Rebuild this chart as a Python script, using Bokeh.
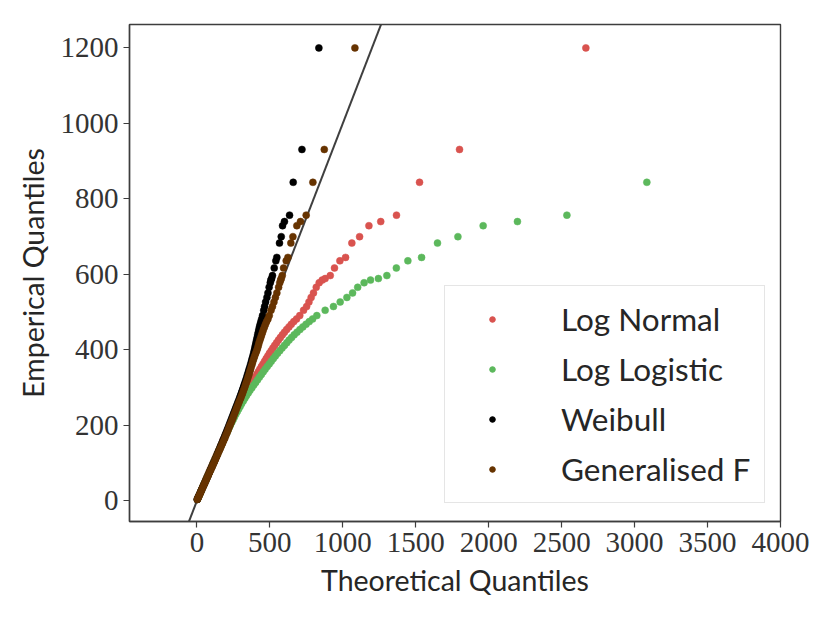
from bokeh.plotting import figure
from bokeh.models import Range1d, FixedTicker, Legend, LegendItem
from bokeh.embed import file_html
from bokeh.resources import INLINE

# ---------------- data ----------------
empirical_q = [4, 8, 13, 18, 24, 30, 36, 42, 48, 55, 62, 69, 76, 83, 90, 97, 104, 111, 118, 125,
               132, 139, 146, 153, 160, 167, 174, 181, 188, 195, 202, 209, 216, 223, 230, 237, 244,
               251, 258, 265, 272, 279, 286, 293, 300, 307, 314, 321, 328, 335, 342, 349, 356, 363,
               370, 377, 384, 391, 398, 405, 412, 419, 426, 433, 440, 447, 454, 461, 468, 475, 482,
               491, 505, 515, 527, 539, 551, 566, 578, 585, 589, 597, 617, 636, 645, 683, 700, 729,
               740, 757, 844, 931, 1200]

theo_weibull = [2, 7, 13, 19, 26, 33, 40, 47, 54, 62, 70, 78, 86, 94, 102, 110, 118, 126, 134, 141,
                149, 157, 164, 172, 179, 187, 194, 202, 209, 217, 224, 231, 238, 245, 252, 259, 266,
                273, 280, 287, 294, 300, 306, 312, 318, 324, 330, 336, 342, 347, 353, 358, 364, 369,
                374, 379, 384, 389, 393, 397, 401, 405, 409, 413, 417, 421, 425, 429, 434, 439, 444,
                450, 458, 464, 471, 480, 487, 495, 503, 507, 512, 518, 530, 541, 548, 566, 578, 587,
                600, 635, 660, 720, 836]

theo_genf = [3, 8, 14, 20, 27, 34, 41, 48, 55, 63, 71, 79, 87, 96, 104, 112, 120, 128, 136, 144,
             152, 160, 168, 176, 184, 192, 199, 207, 214, 221, 228, 236, 243, 250, 257, 264, 271,
             278, 285, 292, 300, 307, 314, 320, 327, 333, 339, 345, 351, 357, 362, 368, 373, 379,
             384, 390, 396, 403, 410, 416, 421, 426, 432, 438, 444, 450, 456, 463, 470, 478, 487,
             496, 508, 518, 528, 538, 548, 560, 568, 574, 578, 585, 594, 612, 624, 644, 658, 685,
             710, 749, 795, 873, 1083]

theo_lognormal = [3, 7, 13, 19, 25, 32, 38, 45, 52, 59, 67, 75, 83, 91, 99, 107, 115, 123, 131, 139,
                  147, 155, 163, 171, 179, 187, 195, 203, 211, 219, 227, 235, 243, 251, 259, 268, 276,
                  285, 294, 303, 312, 322, 333, 344, 355, 366, 378, 389, 400, 411, 421, 431, 442, 453,
                  464, 475, 486, 497, 509, 521, 533, 546, 559, 572, 586, 600, 615, 631, 647, 664, 683,
                  705, 731, 752, 768, 783, 799, 818, 838, 859, 879, 914, 943, 980, 1019, 1062, 1115, 1179,
                  1260, 1368, 1526, 1800, 2666]

theo_loglogistic = [3, 8, 14, 20, 26, 33, 39, 46, 53, 61, 69, 77, 85, 93, 101, 109, 117, 125, 133, 141,
                    149, 157, 165, 173, 181, 189, 197, 206, 214, 222, 231, 240, 249, 258, 267, 277, 287,
                    297, 307, 318, 329, 340, 352, 364, 377, 390, 403, 416, 429, 442, 455, 468, 482, 496,
                    510, 524, 538, 553, 568, 584, 600, 616, 632, 649, 667, 686, 706, 726, 748, 770, 793,
                    822, 879, 936, 982, 1028, 1067, 1102, 1146, 1190, 1244, 1302, 1367, 1446, 1540, 1649,
                    1789, 1962, 2197, 2536, 3084, 4400, 6100]

ref_line = [-600, 1400]

series_names = ["Log Normal", "Log Logistic", "Weibull", "Generalised F"]
series_colors = ["#d9534f", "#5cb85c", "#000000", "#663300"]
x_ticks = [0, 500, 1000, 1500, 2000, 2500, 3000, 3500, 4000]
y_ticks = [0, 200, 400, 600, 800, 1000, 1200]

# ---------------- figure ----------------
p = figure(width=822, height=615,
           x_range=Range1d(-462, 4000), y_range=Range1d(-54.5, 1262),
           output_backend="svg", toolbar_location=None,
           min_border_left=129, min_border_right=42, min_border_top=24, min_border_bottom=94)

p.grid.visible = False
p.outline_line_color = "#3d3d3d"
p.outline_line_width = 1.4
p.background_fill_color = "white"

p.line(ref_line, ref_line, line_color="#3f3f3f", line_width=2)

theo = [theo_lognormal, theo_loglogistic, theo_weibull, theo_genf]
items = []
for name, col, xs in zip(series_names, series_colors, theo):
    p.scatter(xs, empirical_q, size=7, fill_color=col, line_color=col, line_width=0.5)
    # small marker for the legend, placed on top of the series' last point (hidden under it)
    leg = p.scatter(xs[-1:], empirical_q[-1:], size=5, fill_color=col, line_color=col)
    items.append(LegendItem(label=name, renderers=[leg]))

legend = Legend(items=items, location=(315, 18),
                label_text_font="Lato", label_text_font_size="31.5px", label_text_color="#262626",
                glyph_width=66, glyph_height=14, label_height=30, spacing=12, padding=14,
                label_standoff=36, margin=0,
                border_line_color="#cccccc", border_line_width=1.5,
                background_fill_color="white", background_fill_alpha=0.85)
p.add_layout(legend)

for ax in (p.xaxis[0], p.yaxis[0]):
    ax.major_label_text_font = "Liberation Serif"
    ax.major_label_text_font_size = "29px"
    ax.major_label_text_color = "#333333"
    ax.axis_label_text_font = "Lato"
    ax.axis_label_text_font_style = "normal"
    ax.axis_label_text_font_size = "28.5px"
    ax.axis_label_text_color = "#262626"
    ax.axis_line_color = "#3d3d3d"
    ax.axis_line_width = 1.4
    ax.major_tick_line_color = "#3d3d3d"
    ax.major_tick_line_width = 1.2
    ax.major_tick_out = 6
    ax.major_tick_in = 0
    ax.minor_tick_line_color = None
    ax.major_label_standoff = 5
    ax.axis_label_standoff = 8

p.xaxis.ticker = FixedTicker(ticks=x_ticks)
p.yaxis.ticker = FixedTicker(ticks=y_ticks)
p.xaxis.axis_label = "Theoretical Quantiles"
p.yaxis.axis_label = "Emperical Quantiles"

open("out.html", "w").write(file_html(p, INLINE))
